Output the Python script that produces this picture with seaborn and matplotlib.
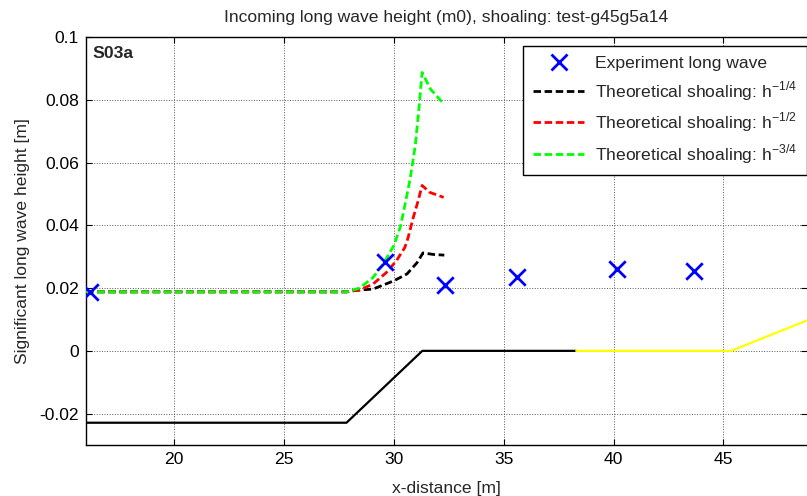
import matplotlib
matplotlib.use("Agg")
import matplotlib.pyplot as plt
from matplotlib.lines import Line2D
import seaborn as sns

sns.set_style("ticks")
plt.rcParams["font.family"] = ["Liberation Sans", "DejaVu Sans"]
plt.rcParams["mathtext.fontset"] = "custom"
plt.rcParams["mathtext.rm"] = "Liberation Sans"

# Measured long-wave heights along the flume
exp_x = [16.2, 29.6, 32.35, 35.6, 40.15, 43.65]
exp_h = [0.0186, 0.0283, 0.0211, 0.0234, 0.0260, 0.0255]

# Theoretical shoaling curves (Green's law style exponents)
sh14_x = [16.0, 27.85, 28.15, 29.06, 30.0, 30.6, 31.06, 31.33, 31.82, 32.3]
sh14_h = [0.0188, 0.0188, 0.0192, 0.0197, 0.0223, 0.0245, 0.0281, 0.0312, 0.0307, 0.0305]

sh12_x = [16.0, 27.85, 28.45, 29.06, 29.67, 30.12, 30.5, 30.65, 30.88, 31.1, 31.29, 31.64, 32.27]
sh12_h = [0.0188, 0.0188, 0.0194, 0.0213, 0.0250, 0.0287, 0.0329, 0.0360, 0.0423, 0.0476, 0.0527, 0.0505, 0.0489]

sh34_x = [16.0, 27.85, 28.45, 29.06, 29.51, 30.0, 30.3, 30.45, 30.75, 30.98, 31.13, 31.29, 31.67, 32.27]
sh34_h = [0.0188, 0.0188, 0.0200, 0.0234, 0.0276, 0.0335, 0.0395, 0.0445, 0.0550, 0.0655, 0.0760, 0.0887, 0.0834, 0.0787]

# Bed profile (scaled), wet part and beach part
bed_x = [16.0, 27.85, 31.3, 38.3]
bed_z = [-0.0229, -0.0229, 0.0, 0.0]
beach_x = [38.3, 45.35, 48.8]
beach_z = [0.0, 0.0, 0.0097]

FS = 12.6
DASH = (2.7, 1.3)
GREEN = (0, 1, 0)

fig = plt.figure(figsize=(8.07, 4.96), dpi=100)
ax = fig.add_axes([0.1066, 0.1028, 0.8934, 0.8226])

sns.lineplot(x=bed_x, y=bed_z, ax=ax, color="black", lw=1.6, sort=False,
             estimator=None, zorder=2)
sns.lineplot(x=beach_x, y=beach_z, ax=ax, color=(1, 1, 0), lw=1.6, sort=False,
             estimator=None, zorder=2)

curves = [(sh14_x, sh14_h, "black"), (sh12_x, sh12_h, "red"), (sh34_x, sh34_h, GREEN)]
for i, (cx, cy, col) in enumerate(curves):
    n_before = len(ax.lines)
    sns.lineplot(x=cx, y=cy, ax=ax, color=col, lw=2.0, sort=False,
                 estimator=None, zorder=3 + i)
    for ln in ax.lines[n_before:]:
        ln.set_dashes(DASH)

sns.scatterplot(x=exp_x, y=exp_h, ax=ax, marker="x", s=140, color="blue",
                linewidth=2.0, zorder=6)

ax.set_xlim(16, 48.8)
ax.set_ylim(-0.03, 0.1)
ax.set_xticks([20, 25, 30, 35, 40, 45])
ax.set_yticks([-0.02, 0, 0.02, 0.04, 0.06, 0.08, 0.1])
ax.set_yticklabels(["-0.02", "0", "0.02", "0.04", "0.06", "0.08", "0.1"])
ax.tick_params(direction="in", length=4, width=0.8, top=True, right=True,
               labelsize=FS, colors="black", pad=5)
ax.grid(True, linestyle=":", color="0.35", linewidth=0.7)
for s in ["top", "left", "bottom"]:
    ax.spines[s].set_color("black")
    ax.spines[s].set_linewidth(1.0)
ax.spines["right"].set_visible(False)

ax.set_title("Incoming long wave height (m0), shoaling: test-g45g5a14",
             fontsize=FS, pad=10.5)
ax.set_xlabel("x-distance [m]", fontsize=FS, labelpad=10)
ax.set_ylabel("Significant long wave height [m]", fontsize=FS, labelpad=7)
ax.text(0.009, 0.978, "S03a", transform=ax.transAxes, fontsize=FS,
        fontweight="bold", ha="left", va="top")

handles = [
    Line2D([], [], color="blue", marker="x", linestyle="none", markersize=12,
           markeredgewidth=2.0),
    Line2D([], [], color="black", lw=2.0, dashes=DASH),
    Line2D([], [], color="red", lw=2.0, dashes=DASH),
    Line2D([], [], color=GREEN, lw=2.0, dashes=DASH),
]
labels = [
    "Experiment long wave",
    r"Theoretical shoaling: h$^{\mathrm{-1/4}}$",
    r"Theoretical shoaling: h$^{\mathrm{-1/2}}$",
    r"Theoretical shoaling: h$^{\mathrm{-3/4}}$",
]
leg = ax.legend(handles, labels, loc="upper right", bbox_to_anchor=(0.9995, 0.977),
                fontsize=FS, frameon=True, fancybox=False, edgecolor="black",
                framealpha=1, handlelength=2.95, handletextpad=0.6,
                borderpad=0.55, labelspacing=0.45, borderaxespad=0.0)
leg.get_frame().set_linewidth(1.0)

fig.savefig("out.png", dpi=100)
